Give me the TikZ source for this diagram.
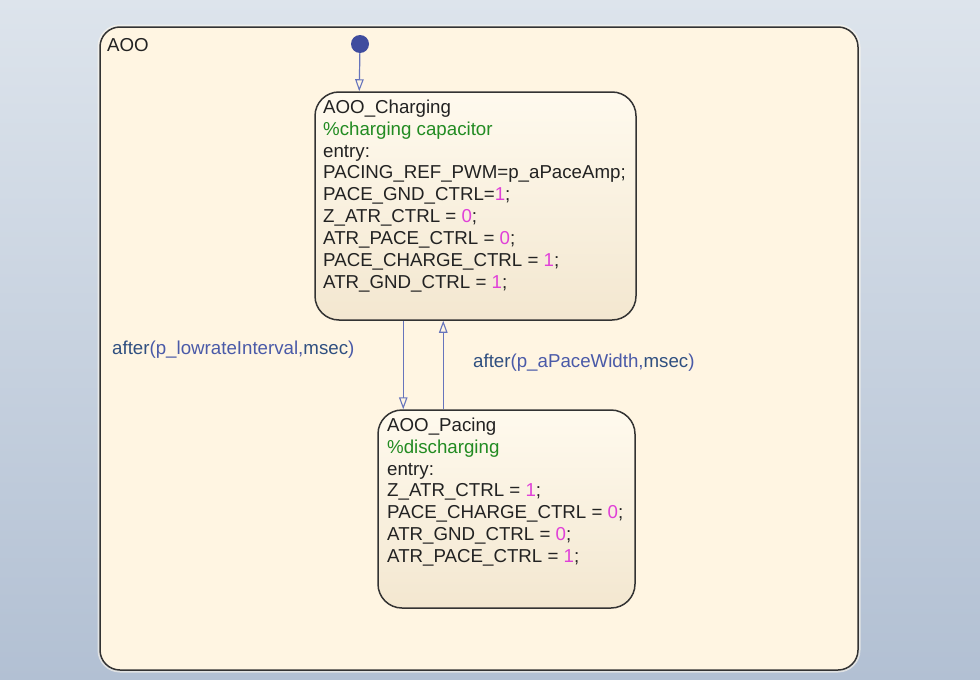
\documentclass[tikz,border=0pt]{standalone}
\usepackage{fontspec}
\setmainfont{Liberation Sans}
\usetikzlibrary{arrows.meta,calc}

\definecolor{bgtop}{HTML}{DDE4EC}
\definecolor{bgbot}{HTML}{B2C0D3}
\definecolor{chartfill}{HTML}{FFF5E2}
\definecolor{statetop}{HTML}{FFFAEE}
\definecolor{statebot}{HTML}{F3E7D0}
\definecolor{edge}{HTML}{333333}
\definecolor{txt}{HTML}{222222}
\definecolor{cmt}{HTML}{228B22}
\definecolor{num}{HTML}{E040D8}
\definecolor{trans}{HTML}{6674BC}
\definecolor{dotc}{HTML}{3F4C9E}
\definecolor{kw}{HTML}{2F4F80}
\definecolor{lbl}{HTML}{4A5AA8}

\newcommand{\nm}[1]{\textcolor{num}{#1}}
\newcommand{\cm}[1]{\textcolor{cmt}{#1}}

\tikzset{
  chart/.style={draw=edge, line width=1.5pt, fill=chartfill, rounded corners=20pt},
  statebox/.style={draw=edge, line width=1.5pt, rounded corners=24pt,
    top color=statetop, bottom color=statebot, inner sep=0pt},
  body/.style={anchor=north west, align=left, inner sep=0pt, text=txt,
    font=\fontsize{18.7}{21.9}\selectfont},
  trans/.style={draw=trans, line width=1.2pt,
    -{Triangle[open, length=12pt, width=8.5pt, line width=1.1pt]}},
  guard/.style={anchor=base west, inner sep=0pt, text=lbl,
    font=\fontsize{18.7}{21.9}\selectfont},
}

\begin{document}
\begin{tikzpicture}[x=1pt, y=-1pt]
  % page background
  \shade[top color=bgtop, bottom color=bgbot] (0,0) rectangle (980,680);
  \useasboundingbox (0,0) rectangle (980,680);

  % chart frame
  \draw[chart, draw=chartfill!60!white, line width=5pt, opacity=0.6] (100,27) rectangle (858,670);
  \draw[chart] (100,27) rectangle (858,670);
  \node[anchor=base west, inner sep=0pt, text=txt,
        font=\fontsize{18.7}{21.9}\selectfont] (title) at (107,51.5) {AOO};

  % states
  \node[statebox, minimum width=321pt, minimum height=228pt] (chg) at (475.5,206) {};
  \node[statebox, minimum width=257pt, minimum height=198pt] (pac) at (506.5,509) {};

  \node[body] (chgtext) at (323,99.5) {AOO\_Charging\\
    \cm{\%charging capacitor}\\
    entry:\\
    PACING\_REF\_PWM=p\_aPaceAmp;\\
    PACE\_GND\_CTRL=\nm{1};\\
    Z\_ATR\_CTRL = \nm{0};\\
    ATR\_PACE\_CTRL = \nm{0};\\
    PACE\_CHARGE\_CTRL = \nm{1};\\
    ATR\_GND\_CTRL = \nm{1};};

  \node[body] (pactext) at (387,417.5) {AOO\_Pacing\\
    \cm{\%discharging}\\
    entry:\\
    Z\_ATR\_CTRL = \nm{1};\\
    PACE\_CHARGE\_CTRL = \nm{0};\\
    ATR\_GND\_CTRL = \nm{0};\\
    ATR\_PACE\_CTRL = \nm{1};};

  % default transition
  \node[circle, fill=dotc, minimum size=18pt, inner sep=0pt] (init) at (360,44) {};
  \draw[trans] (init) -- ([xshift=45pt]chg.north west);

  % transitions between states
  \draw[trans] ([xshift=89pt]chg.south west) -- ([xshift=26pt]pac.north west);
  \draw[trans] ([xshift=66pt]pac.north west) -- ([xshift=129pt]chg.south west);

  \node[guard] (g1) at (112,354.5) {\textcolor{kw}{after}(p\_lowrateInterval,\textcolor{kw}{msec})};
  \node[guard] (g2) at (473,367.5) {\textcolor{kw}{after}(p\_aPaceWidth,\textcolor{kw}{msec})};
\end{tikzpicture}
\end{document}
